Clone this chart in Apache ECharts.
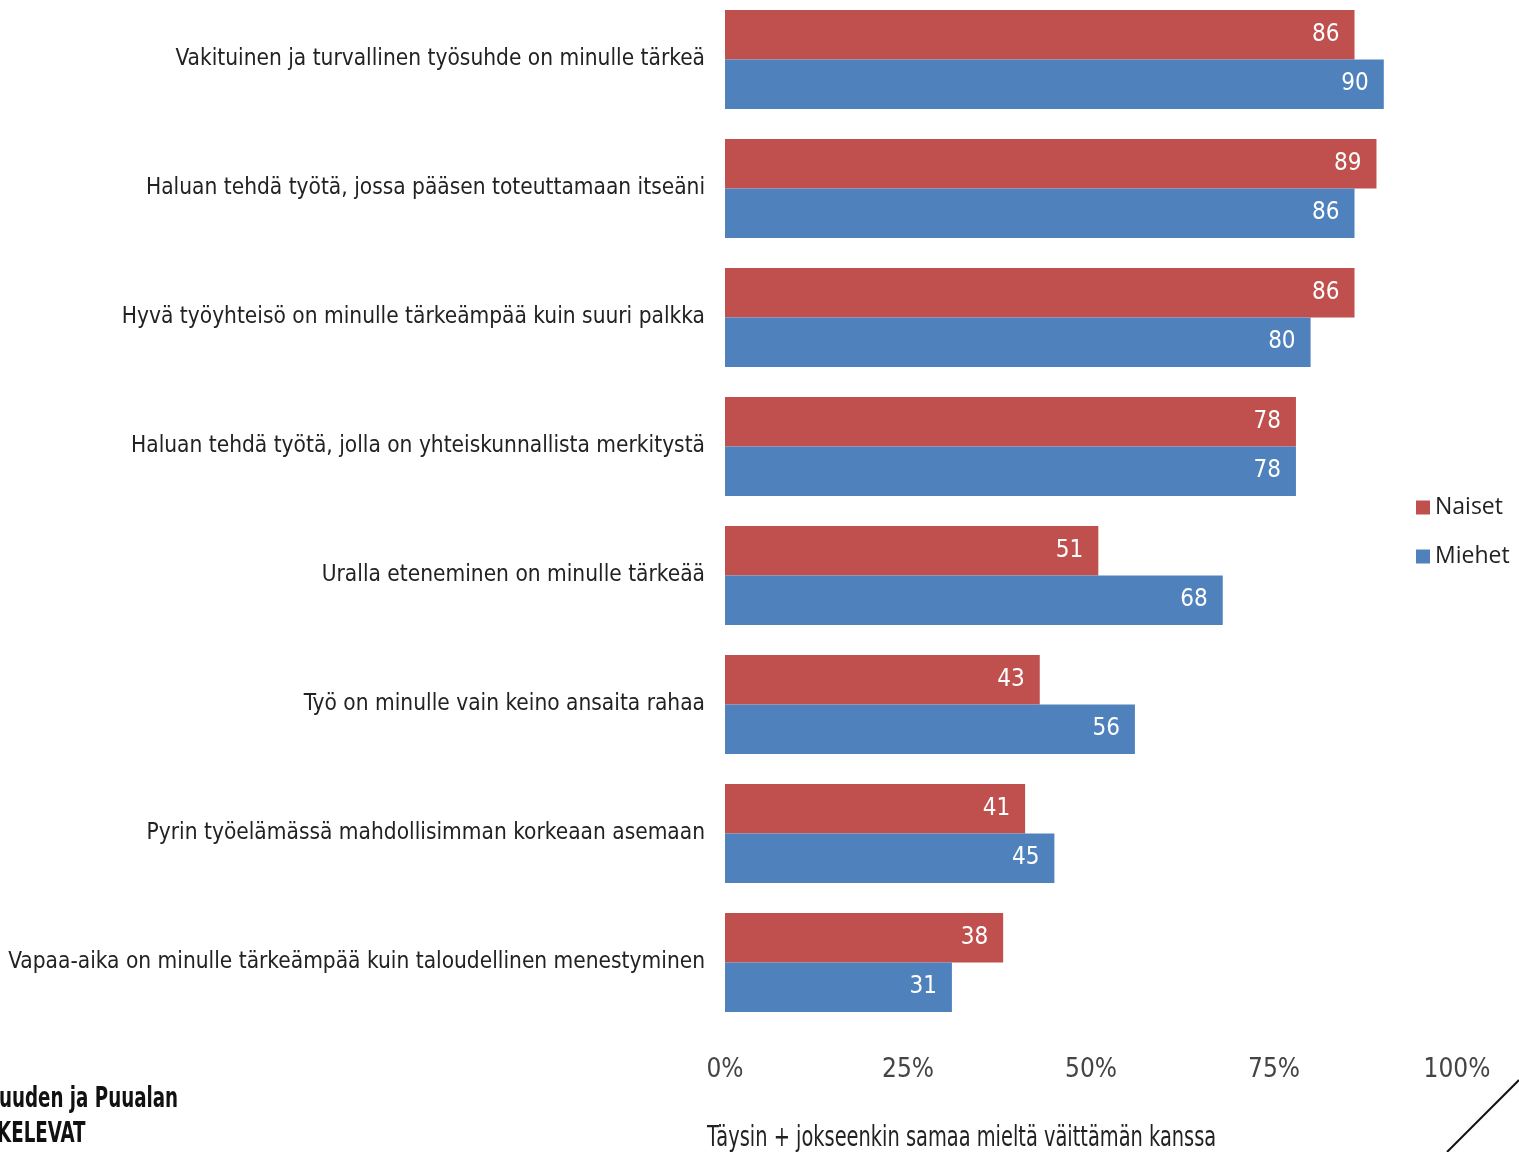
<!DOCTYPE html>
<html><head><meta charset="utf-8">
<script src="https://cdn.jsdelivr.net/npm/echarts@6/dist/echarts.min.js"></script>
<style>html,body{margin:0;padding:0;background:#fff}#c{width:1519px;height:1152px}</style>
</head><body><div id="c"></div>
<script>
const categories = [
  "Vakituinen ja turvallinen työsuhde on minulle tärkeä",
  "Haluan tehdä työtä, jossa pääsen toteuttamaan itseäni",
  "Hyvä työyhteisö on minulle tärkeämpää kuin suuri palkka",
  "Haluan tehdä työtä, jolla on yhteiskunnallista merkitystä",
  "Uralla eteneminen on minulle tärkeää",
  "Työ on minulle vain keino ansaita rahaa",
  "Pyrin työelämässä mahdollisimman korkeaan asemaan",
  "Vapaa-aika on minulle tärkeämpää kuin taloudellinen menestyminen"
];
const naiset = [86, 89, 86, 78, 51, 43, 41, 38];
const miehet = [90, 86, 80, 78, 68, 56, 45, 31];
const tickLabels = ["0%", "25%", "50%", "75%", "100%"];
const axisTitle = "Täysin + jokseenkin samaa mieltä väittämän kanssa";

const chart = echarts.init(document.getElementById('c'));
const condensed = '"Liberation Sans Narrow", "DejaVu Sans Condensed", sans-serif';
const labelStyle = {show: true, position: 'insideRight', distance: 15, color: '#fff', fontSize: 24, fontFamily: condensed};
chart.setOption({
  animation: false,
  grid: {left: 725, right: 62, top: -5, height: 1032, containLabel: false, outerBoundsMode: 'none'},
  legend: {
    orient: 'vertical', left: 1411, top: 491, itemWidth: 14, itemHeight: 14, itemGap: 26,
    icon: 'rect',
    textStyle: {fontSize: 23, color: '#222', fontFamily: '"Open Sans", sans-serif', padding: [0,0,0,0]},
    data: ['Naiset', 'Miehet']
  },
  xAxis: {
    type: 'value', min: 0, max: 100, interval: 25,
    splitLine: {show: false}, axisLine: {show: false}, axisTick: {show: false},
    axisLabel: {margin: 30, fontSize: 26, color: '#444', fontFamily: condensed,
      formatter: v => tickLabels[v / 25]}
  },
  yAxis: {
    type: 'category', inverse: true, data: categories,
    axisLine: {show: false}, axisTick: {show: false},
    axisLabel: {margin: 20, fontSize: 22.5, color: '#222', fontFamily: condensed, padding: [4, 0, 0, 0]}
  },
  series: [
    {name: 'Naiset', type: 'bar', data: naiset, barWidth: 49.5, barGap: '0%',
      itemStyle: {color: '#C0504D'}, label: labelStyle},
    {name: 'Miehet', type: 'bar', data: miehet, barWidth: 49.5, barGap: '0%',
      itemStyle: {color: '#4F81BD'}, label: labelStyle}
  ],
  graphic: [
    {type: 'text', x: 707, y: 1125, scaleX: 0.77, style: {text: axisTitle, fontSize: 28, fill: '#222', fontFamily: condensed}},
    {type: 'text', x: -1, y: 1085, scaleX: 0.7, style: {text: 'uuden ja Puualan', fontSize: 29, fontWeight: 'bold', fill: '#111', fontFamily: condensed}},
    {type: 'text', x: -3, y: 1120, scaleX: 0.7, style: {text: 'KELEVAT', fontSize: 29, fontWeight: 'bold', fill: '#111', fontFamily: condensed}},
    {type: 'line', shape: {x1: 1447, y1: 1152, x2: 1519, y2: 1080}, style: {stroke: '#111', lineWidth: 2}}
  ]
});
</script></body></html>
